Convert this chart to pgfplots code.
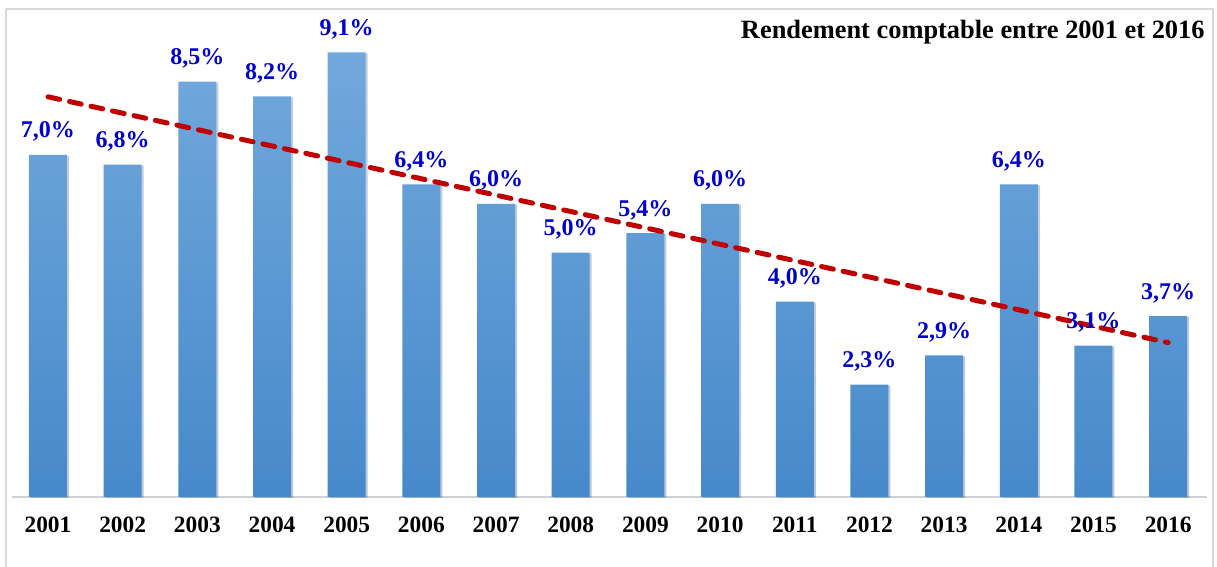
\documentclass[border=0pt]{standalone}
\usepackage{pgfplots}
\pgfplotsset{compat=1.18}
\usetikzlibrary{shadows}
\usepackage{fontspec}
\setmainfont{Liberation Serif}
\definecolor{barTop}{HTML}{72A8DC}
\definecolor{barBot}{HTML}{4689CA}
\definecolor{lblblue}{HTML}{0000CC}
\definecolor{trendred}{HTML}{C00000}
\begin{document}
\begin{tikzpicture}
\path[use as bounding box] (-6pt,-35pt) rectangle (602.5pt,248.5pt);
\draw[color=black!15, line width=1pt] (-3pt,-40pt) -- (-3pt,244pt) -- (600.5pt,244pt) -- (600.5pt,-40pt);
\begin{axis}[
  scale only axis, width=597.5pt, height=242.5pt,
  xmin=-0.482, xmax=15.52, ymin=0, ymax=9.926,
  axis x line=bottom, axis y line=none,
  x axis line style={-, draw=black!18, line width=1pt},
  xtick={0,...,15},
  xticklabels={2001,2002,2003,2004,2005,2006,2007,2008,2009,2010,2011,2012,2013,2014,2015,2016},
  major tick length=0pt,
  xticklabel style={anchor=base, yshift=-18pt, font=\bfseries\fontsize{11.7}{12}\selectfont},
  /pgf/number format/assume math mode=true,
  clip=false,
]
\addplot[ybar, bar width=19pt, draw=none, top color=barTop, bottom color=barBot,
  drop shadow={shadow xshift=1pt, shadow yshift=-0.5pt, opacity=0.25, fill=black!50},
  nodes near coords={\pgfmathprintnumber[fixed,fixed zerofill,precision=1,use comma]{\pgfplotspointmeta}\%},
  nodes near coords style={font=\bfseries\fontsize{12}{12}\selectfont, text=lblblue, anchor=base, inner sep=0pt, yshift=8.5pt}]
coordinates {(0,7.0) (1,6.8) (2,8.5) (3,8.2) (4,9.1) (5,6.4) (6,6.0) (7,5.0) (8,5.4) (9,6.0) (10,4.0) (11,2.3) (12,2.9) (13,6.4) (14,3.1) (15,3.7)};
\addplot[trendred, line width=2.5pt, dash pattern=on 6pt off 5pt, line cap=round, sharp plot, mark=none]
coordinates {(0,8.19) (15,3.16)};
\end{axis}
\node[anchor=base east, inner sep=0pt, font=\bfseries\fontsize{13.2}{14}\selectfont] at (596.5pt,229pt) {Rendement comptable entre 2001 et 2016};
\end{tikzpicture}
\end{document}
